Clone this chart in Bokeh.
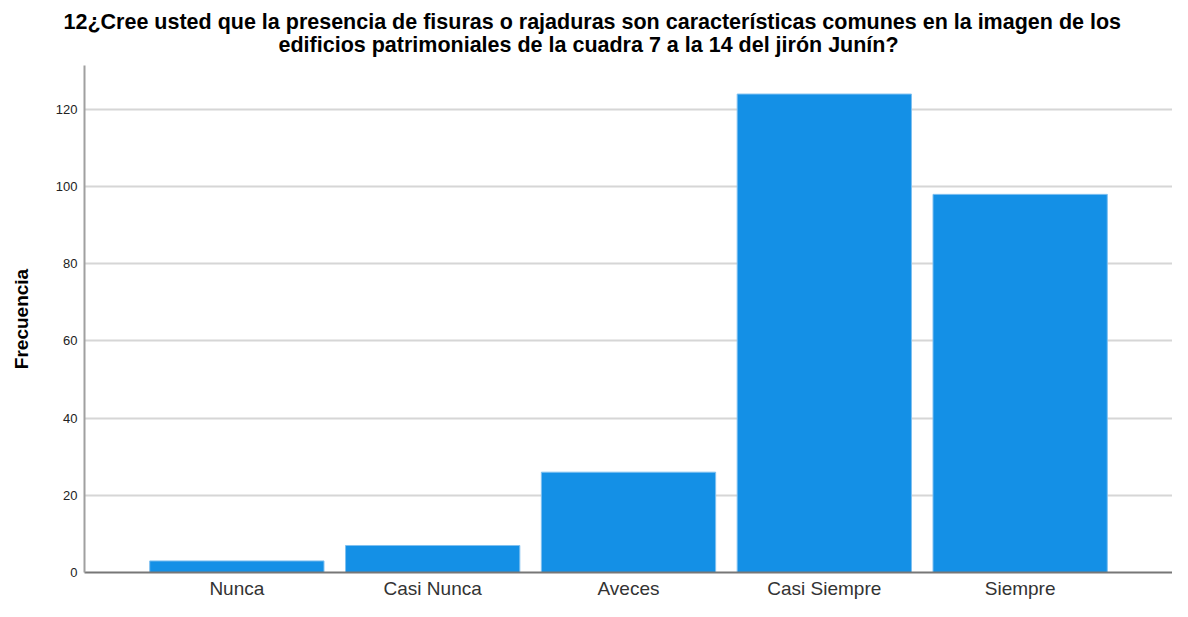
from bokeh.plotting import figure
from bokeh.models import FactorRange, Range1d, Title, FixedTicker
from bokeh.embed import file_html
from bokeh.resources import INLINE

categories = ["Nunca", "Casi Nunca", "Aveces", "Casi Siempre", "Siempre"]
frecuencia = [3, 7, 26, 124, 98]
y_ticks = [0, 20, 40, 60, 80, 100, 120]

title_lines = [
    "12¿Cree usted que la presencia de fisuras o rajaduras son características comunes en la imagen de los",
    "edificios patrimoniales de la cuadra 7 a la 14 del jirón Junín?",
]

x_range = FactorRange(factors=categories, range_padding=0.278, range_padding_units="absolute")
p = figure(x_range=x_range, y_range=Range1d(0, 131.4), width=1172, height=601,
           output_backend="svg", toolbar_location=None,
           min_border_left=84, min_border_right=0, min_border_bottom=24, min_border_top=0)

p.vbar(x=categories, top=frecuencia, width=0.89, fill_color="#1490E6",
       line_color="#7fc0f0", line_width=1)

standoffs = [17, -22]
offsets = [194, -21]
for line, so, off in zip(reversed(title_lines), standoffs, offsets):
    t = Title(text=line, align="left", text_font="Liberation Sans", text_font_size="21.5px",
              text_font_style="bold", text_color="#000000", standoff=so, offset=off)
    p.add_layout(t, "above")
# small spacer above the title
p.add_layout(Title(text=" ", text_font_size="14px", standoff=0), "above")

p.outline_line_color = None
p.background_fill_color = "white"
p.border_fill_color = "white"

p.xgrid.grid_line_color = None
p.ygrid.grid_line_color = "#d6d6d6"
p.ygrid.grid_line_width = 2
p.yaxis.ticker = FixedTicker(ticks=y_ticks)

p.yaxis.axis_label = "Frecuencia"
p.yaxis.axis_label_text_font = "Liberation Sans"
p.yaxis.axis_label_text_font_size = "19px"
p.yaxis.axis_label_text_font_style = "bold"
p.yaxis.axis_label_text_color = "#000000"
p.yaxis.axis_label_standoff = 21
p.yaxis.major_label_text_font = "Liberation Sans"
p.yaxis.major_label_text_font_size = "13px"
p.yaxis.major_label_text_color = "#222222"
p.yaxis.major_tick_line_color = None
p.yaxis.major_tick_out = 0
p.yaxis.major_tick_in = 0
p.yaxis.minor_tick_line_color = None
p.yaxis.minor_tick_out = 0
p.yaxis.axis_line_color = "#a0a0a0"
p.yaxis.axis_line_width = 2
p.yaxis.major_label_standoff = 7

p.xaxis.major_label_text_font = "Liberation Sans"
p.xaxis.major_label_text_font_size = "19px"
p.xaxis.major_label_text_color = "#333333"
p.xaxis.major_tick_line_color = None
p.xaxis.major_tick_out = 0
p.xaxis.major_tick_in = 0
p.xaxis.axis_line_color = "#777777"
p.xaxis.axis_line_width = 2
p.xaxis.major_label_standoff = 5

open("out.html", "w").write(file_html(p, INLINE))
